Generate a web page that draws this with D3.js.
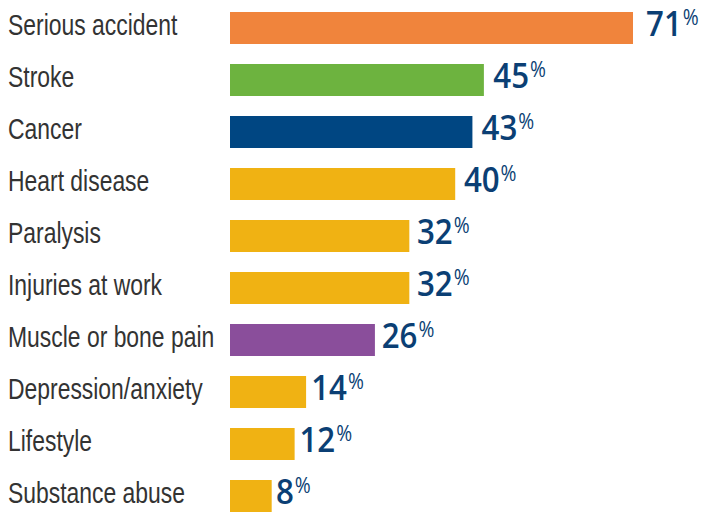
<!DOCTYPE html>
<html>
<head>
<meta charset="utf-8">
<script src="https://cdn.jsdelivr.net/npm/d3@7"></script>
<style>
  body { margin: 0; background: #fff; }
</style>
</head>
<body>
<svg id="graph"></svg>
<script>
const categories = ["Serious accident", "Stroke", "Cancer", "Heart disease", "Paralysis",
  "Injuries at work", "Muscle or bone pain", "Depression/anxiety", "Lifestyle", "Substance abuse"];
const values = [71, 45, 43, 40, 32, 32, 26, 14, 12, 8];
const colors = ["#f0843c", "#6db33f", "#004682", "#f0b213", "#f0b213",
  "#f0b213", "#8a4e9b", "#f0b213", "#f0b213", "#f0b213"];

const data = categories.map((c, i) => ({ name: c, value: values[i], color: colors[i] }));

const width = 705;
const height = 512;
const barLeft = 230;

const x = d3.scaleLinear().domain([0, 71]).range([225.8, 633]);
// value label position
const lx = d3.scaleLinear().domain([8, 71]).range([276, 646]);

const y = d3.scaleBand()
  .domain(categories)
  .range([12, 512])
  .paddingInner(0.3846)
  .paddingOuter(0);

const svg = d3.select("#graph")
  .attr("width", width)
  .attr("height", height)
  .attr("viewBox", [0, 0, width, height]);

svg.append("g")
  .selectAll("rect")
  .data(data)
  .join("rect")
  .attr("x", barLeft)
  .attr("y", d => y(d.name))
  .attr("width", d => x(d.value) - barLeft)
  .attr("height", y.bandwidth())
  .attr("fill", d => d.color);

// category labels, squeezed to look condensed
svg.append("g")
  .selectAll("text")
  .data(data)
  .join("text")
  .attr("transform", d => `translate(8,${y(d.name) + y.bandwidth() / 2 + 7}) scale(0.79,1)`)
  .attr("fill", "#333")
  .style("font-family", "'Liberation Sans', Arial, sans-serif")
  .style("font-size", "29px")
  .text(d => d.name);

const vals = svg.append("g")
  .selectAll("text")
  .data(data)
  .join("text")
  .attr("transform", d => `translate(${lx(d.value)},${y(d.name) + y.bandwidth() / 2 + 8}) scale(0.92,1)`)
  .attr("fill", "#0b3f74")
  .style("font-family", "'Open Sans', sans-serif")
  .style("font-weight", 600)
  .style("font-size", "34px")
  .text(d => d.value);

vals.append("tspan")
  .attr("dx", 1)
  .attr("dy", -11)
  .style("font-size", "21px")
  .style("font-weight", 500)
  .text("%");
</script>
</body>
</html>
